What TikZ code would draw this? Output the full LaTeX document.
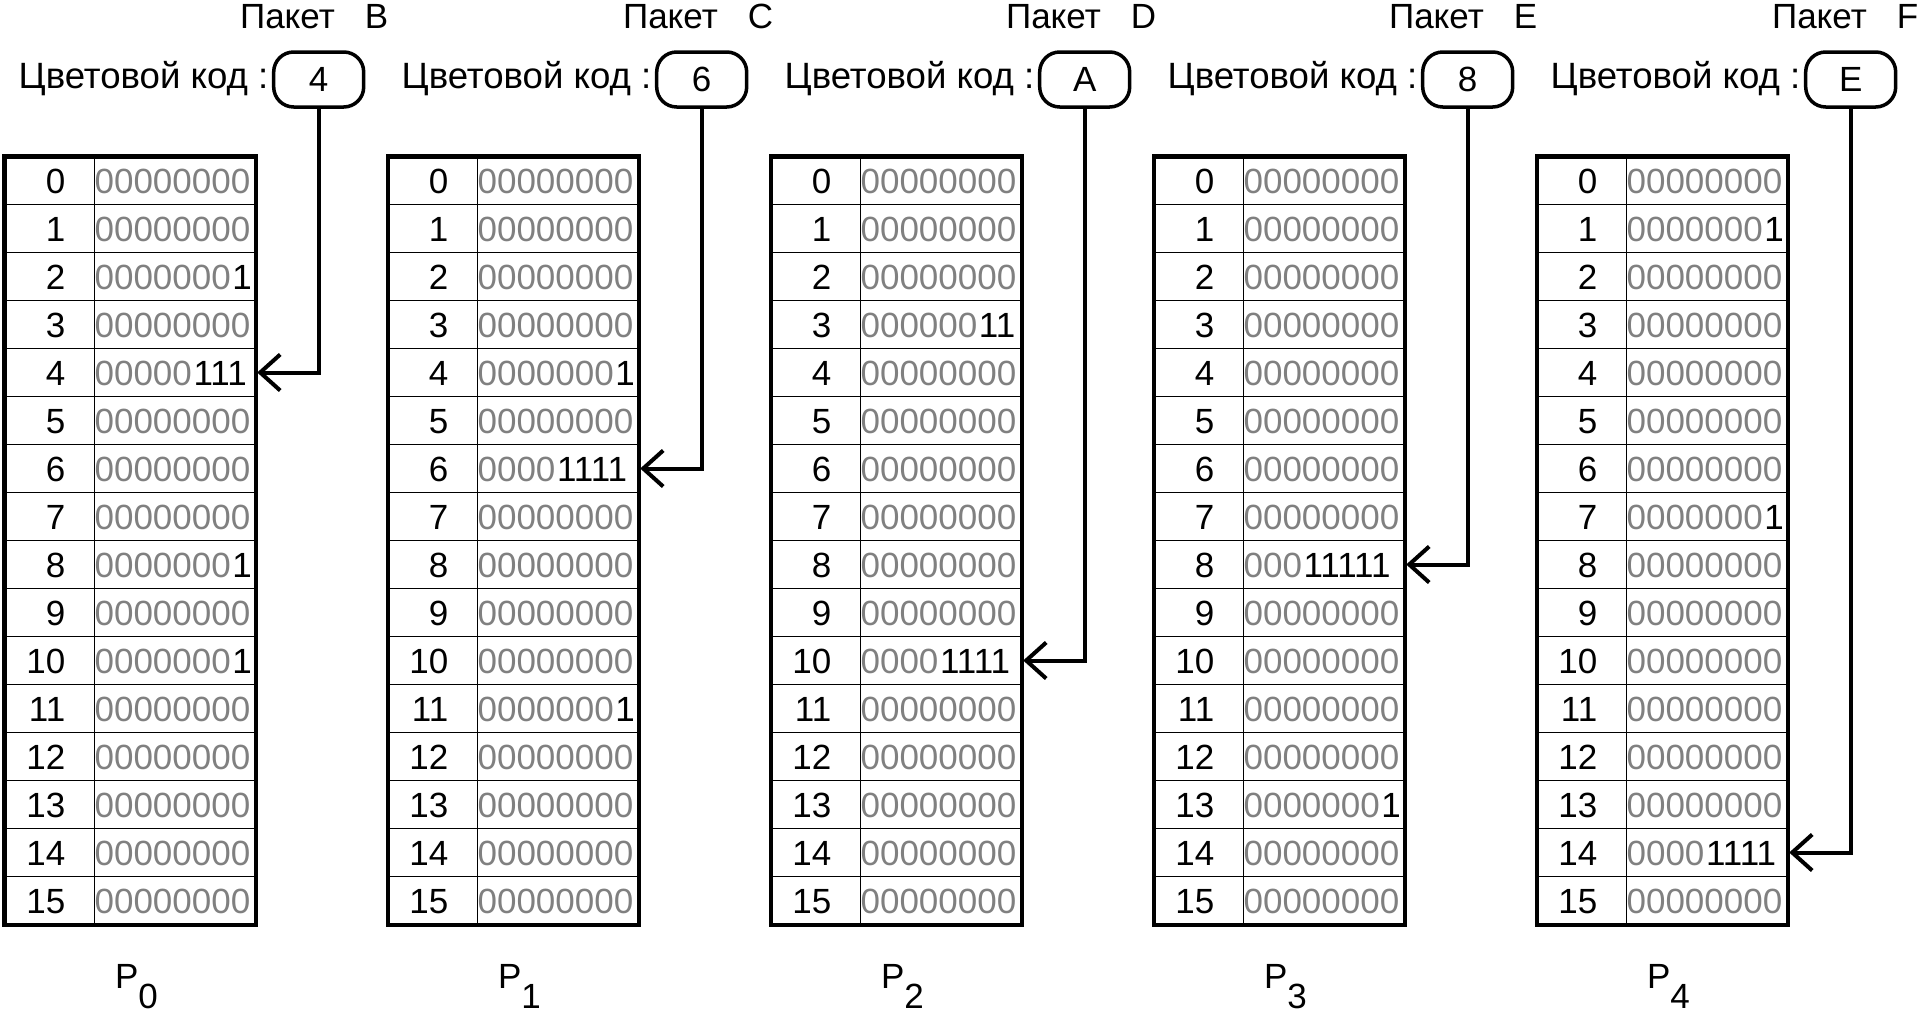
\documentclass[tikz,border=0pt]{standalone}
\usepackage{fontspec}
\setmainfont{Liberation Sans}
\usetikzlibrary{arrows.meta}
\colorlet{zerogray}{black!50}
% leading zeros in gray, the ones in black
\newcommand{\bitstr}[1]{\ifcase#1\relax
  \textcolor{zerogray}{00000000}\or
  \textcolor{zerogray}{0000000}\kern0.8pt 1\or
  \textcolor{zerogray}{000000}\kern0.8pt 11\or
  \textcolor{zerogray}{00000}\kern0.8pt 111\or
  \textcolor{zerogray}{0000}\kern0.8pt 1111\or
  \textcolor{zerogray}{000}\kern0.8pt 11111\fi}

\begin{document}
\begin{tikzpicture}[x=0.5pt, y=-0.5pt, >={Straight Barb[length=10pt, width=18pt]},
    idx/.style={anchor=base east, inner sep=0pt, font=\fontsize{17.5}{20}\selectfont},
    bits/.style={anchor=base west, inner sep=0pt, font=\fontsize{17.5}{20}\selectfont},
    label/.style={anchor=base west, inner sep=0pt, font=\fontsize{17.5}{20}\selectfont},
    codebox/.style={draw, line width=1.75pt, rounded corners=10pt, minimum width=45pt,
      minimum height=27.5pt, inner sep=0pt, font=\fontsize{17.5}{20}\selectfont},
    rowline/.style={line width=0.65pt},
    frame/.style={line width=2.2pt}]
  \useasboundingbox (0,0) rectangle (1924,1012);

  \foreach \c/\pk/\cc/\ar/\vals in {
      0/B/4/4/{0,0,1,0,3,0,0,0,1,0,1,0,0,0,0,0},
      1/C/6/6/{0,0,0,0,1,0,4,0,0,0,0,1,0,0,0,0},
      2/D/A/10/{0,0,0,2,0,0,0,0,0,0,4,0,0,0,0,0},
      3/E/8/8/{0,0,0,0,0,0,0,0,5,0,0,0,0,1,0,0},
      4/F/E/14/{0,1,0,0,0,0,0,1,0,0,0,0,0,0,4,0}} {
    \pgfmathsetmacro{\colx}{4.7+383*\c}

    % header
    \node[label] (pk\c) at (\colx+235, 28) {Пакет\hspace{15pt}\pk};
    \node[label, anchor=base east, font=\fontsize{18.3}{20}\selectfont] (cl\c)
      at (\colx+264, 88) {Цветовой код :};
    \node[codebox] (code\c) at (\colx+314, 79.5) {\cc};

    % memory table
    \foreach \r in {1,...,15}
      \draw[rowline] (\colx, 156.5+48*\r) -- ++(251, 0);
    \draw[rowline] (\colx+89.5, 156.5) -- (\colx+89.5, 925);
    \draw[frame] (\colx, 156.5) rectangle ++(251, 768.5);
    \foreach \v [count=\r from 0] in \vals {
      \node[idx] (idx\c-\r) at (\colx+61, 193+48*\r) {\r};
      \node[bits] (bits\c-\r) at (\colx+89.5, 193+48*\r) {\bitstr{\v}};
    }

    % pointer from the colour code into the table
    \coordinate (tip\c) at (\colx+252.5, 180.5+48*\ar);
    \draw[->, line width=2pt] (code\c.south) |- (tip\c);

    \node[label] (p\c) at (\colx+110, 988) {P\raisebox{-10pt}{\c}};
  }
\end{tikzpicture}
\end{document}
